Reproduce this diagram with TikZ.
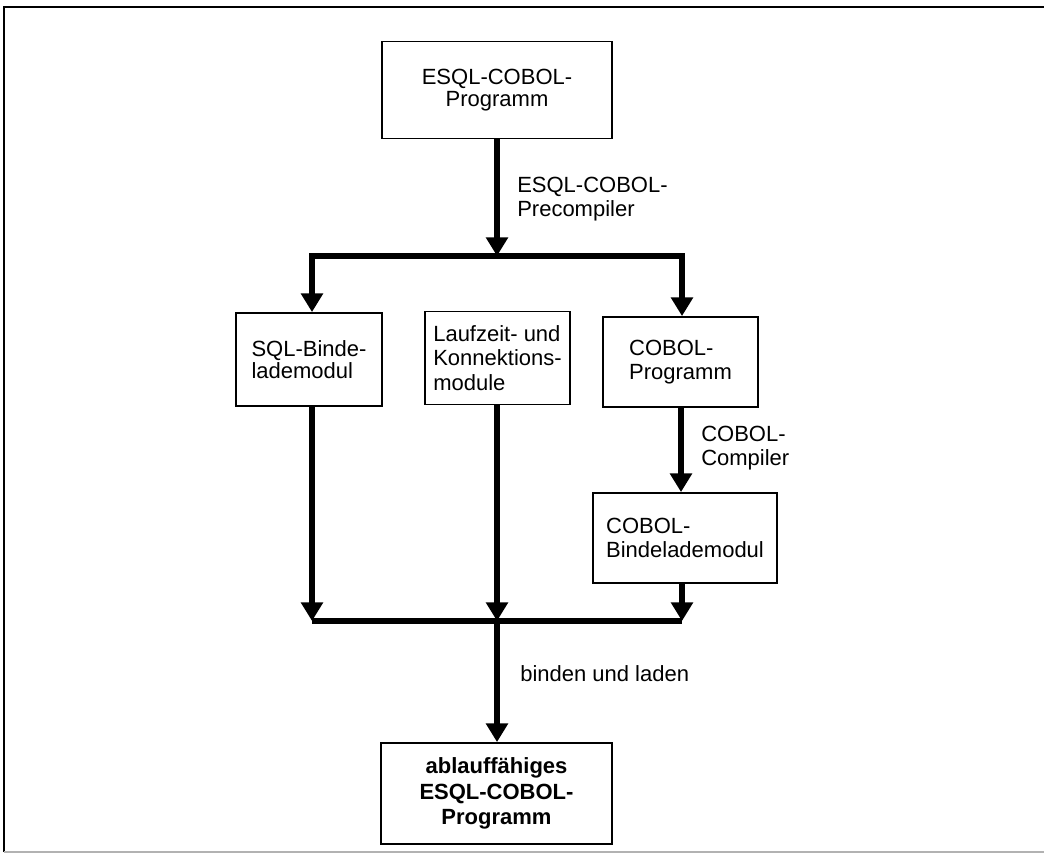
\documentclass[tikz,border=0pt]{standalone}
\usepackage{fontspec}
\setmainfont{Liberation Sans}
\usetikzlibrary{arrows.meta}
\begin{document}
\begin{tikzpicture}[x=0.75pt,y=-0.75pt,
  box/.style={draw, line width=1.4pt, inner sep=0pt, align=left,
    font=\fontsize{16.5}{17}\selectfont},
  lbl/.style={anchor=west, align=left, inner sep=0pt,
    font=\fontsize{16.5}{18}\selectfont},
  flow/.style={line width=4pt, line join=miter},
  arr/.style={flow, -{Triangle[width=16pt,length=14pt]}},
  arrs/.style={flow, {Triangle[width=16pt,length=14pt]}-{Triangle[width=16pt,length=14pt]}}]
\useasboundingbox (0,0) rectangle (1044,857);
% frame
\draw[line width=1.6pt] (4,852) -- (4,7) -- (1050,7);
\draw[line width=0.8pt, gray!60] (4,852) -- (1050,852);

% boxes
\node[box, align=center, minimum width=172.5pt, minimum height=72.75pt,
  font=\fontsize{16.5}{16.5}\selectfont] (top) at (497,90) {ESQL-COBOL-\\Programm};
\node[box, minimum width=109.5pt, minimum height=69.75pt] (sql) at (309,359.5) {SQL-Binde-\\lademodul};
\node[box, minimum width=108.75pt, minimum height=69.75pt,
  font=\fontsize{16.5}{18.5}\selectfont] (lauf) at (497.5,358) {Laufzeit- und\\Konnektions-\\module};
\node[box, minimum width=116.25pt, minimum height=67.5pt,
  font=\fontsize{16.5}{17.5}\selectfont] (cprog) at (680.5,362) {COBOL-\\Programm};
\node[box, minimum width=138pt, minimum height=67.5pt,
  font=\fontsize{16.5}{18}\selectfont] (cbind) at (685,538) {COBOL-\\Bindelademodul};
\node[box, align=center, minimum width=173.25pt, minimum height=75.75pt,
  font=\fontsize{16.5}{19}\selectfont\bfseries] (final) at (496.5,793.5) {ablauffähiges\\ESQL-COBOL-\\Programm};

% junction points
\coordinate (s) at (497,256);
\coordinate (sl) at (312,256);
\coordinate (sr) at (682,256);
\coordinate (c) at (681,0);
\coordinate (j) at (497,621);
\coordinate (jl) at (312,621);
\coordinate (jr) at (682,621);

% connectors
\draw[arr] (top.south -| s) -- (s);
\draw[arrs] (sql.north -| sl) -- (sl) -- (sr) -- (sr |- cprog.north);
\draw[arr] (cprog.south -| c) -- (cbind.north -| c);
\draw[arr] (sql.south -| jl) -- (jl);
\draw[arr] (lauf.south -| j) -- (j);
\draw[arr] (cbind.south -| jr) -- (jr);
\draw[flow] (jl) -- (jr);
\draw[arr] (j) -- (final.north -| j);

% labels
\node[lbl] (lpre) at (517,199) {ESQL-COBOL-\\Precompiler};
\node[lbl] (lcomp) at (701,448) {COBOL-\\Compiler};
\node[lbl] (lbind) at (520,674) {binden und laden};
\end{tikzpicture}
\end{document}
